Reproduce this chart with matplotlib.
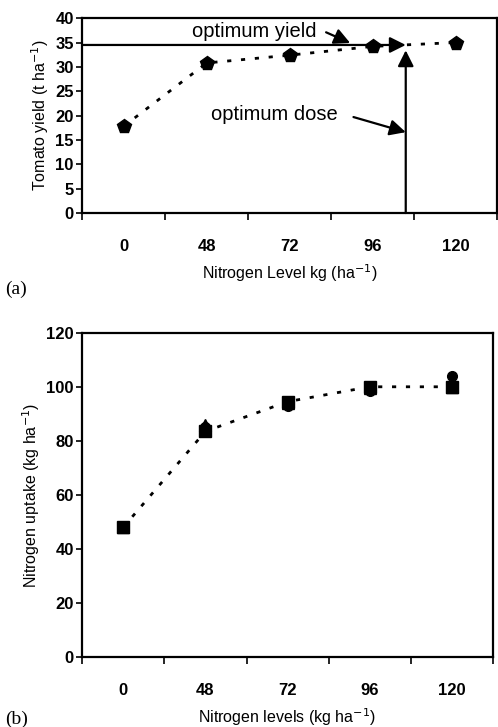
import numpy as np
import matplotlib.pyplot as plt

plt.rcParams['font.family'] = ['Liberation Sans', 'DejaVu Sans']

# categories (nitrogen doses, kg/ha)
doses = ['0', '48', '72', '96', '120']

# (a) tomato yield, t/ha
yield_t = [17.8, 30.8, 32.4, 34.2, 35.0]
opt_yield = 34.5
opt_dose_pos = 3.4   # position on category axis
opt_dose_yield = 33.4

# (b) nitrogen uptake, kg/ha
uptake_sq = [48, 83.5, 94.5, 100, 100]
uptake_tri = [48, 86, 94, 99.5, 100]
uptake_ci = [48, 85, 92.8, 98.6, 104]

fig = plt.figure(figsize=(4.98, 7.27), dpi=100)
x = np.arange(len(doses))
dots = (0, (1.5, 3.5))
arrow = dict(arrowstyle='-|>', color='black', lw=1.6,
             mutation_scale=24, shrinkA=0, shrinkB=0)


def style_axes(ax, xmax):
    ax.set_xlim(-0.5, xmax)
    for s in ax.spines.values():
        s.set_linewidth(1.6)
    ax.set_xticks(x)
    ax.set_xticklabels(doses, fontsize=12, fontweight='bold')
    ax.set_xticks(np.arange(-0.5, 4.6, 1), minor=True)
    ax.tick_params(axis='x', which='major', length=0, pad=19)
    ax.tick_params(axis='x', which='minor', length=5, width=1.2)
    ax.tick_params(axis='y', length=4, width=1.2, labelsize=12, pad=2)
    for t in ax.get_yticklabels():
        t.set_fontweight('bold')


# ---- (a) ----
ax1 = fig.add_axes([0.165, 0.707, 0.833, 0.268])
ax1.plot(x, yield_t, linestyle=dots, color='black', lw=2,
         marker='p', markersize=10)
ax1.set_ylim(0, 40)
ax1.set_yticks(np.arange(0, 41, 5))
style_axes(ax1, 4.37)
ax1.set_ylabel('Tomato yield (t ha$^{-1}$)', fontsize=11.5, labelpad=3)
ax1.set_xlabel('Nitrogen Level kg (ha$^{-1}$)', fontsize=11.5, labelpad=6)

# optimum yield line and optimum dose line, both with arrow heads
ax1.annotate('', xy=(opt_dose_pos, opt_yield), xytext=(-0.5, opt_yield),
             arrowprops=arrow)
ax1.annotate('', xy=(opt_dose_pos, opt_dose_yield), xytext=(opt_dose_pos, 0),
             arrowprops=arrow)
ax1.text(1.58, 37.3, 'optimum yield', ha='center', va='center', fontsize=14.5)
ax1.annotate('', xy=(2.73, 34.9), xytext=(2.44, 37.1), arrowprops=arrow)
ax1.text(1.82, 20.2, 'optimum dose', ha='center', va='center', fontsize=14.5)
ax1.annotate('', xy=(opt_dose_pos, 16.6), xytext=(2.77, 19.7), arrowprops=arrow)
fig.text(0.01, 0.596, '(a)', family='Liberation Serif', fontsize=14)

# ---- (b) ----
ax2 = fig.add_axes([0.165, 0.0963, 0.825, 0.446])
ax2.plot(x, uptake_ci, linestyle='none', color='black', marker='o', markersize=7)
ax2.plot(x, uptake_tri, linestyle='none', color='black', marker='^', markersize=9)
ax2.plot(x, uptake_sq, linestyle=dots, color='black', lw=2,
         marker='s', markersize=9)
ax2.set_ylim(0, 120)
ax2.set_yticks(np.arange(0, 121, 20))
style_axes(ax2, 4.5)
ax2.set_ylabel('Nitrogen uptake (kg ha$^{-1}$)', fontsize=11.5, labelpad=3)
ax2.set_xlabel('Nitrogen levels (kg ha$^{-1}$)', fontsize=11.5, labelpad=6)
fig.text(0.01, 0.004, '(b)', family='Liberation Serif', fontsize=14)

fig.savefig('out.png', dpi=100)
